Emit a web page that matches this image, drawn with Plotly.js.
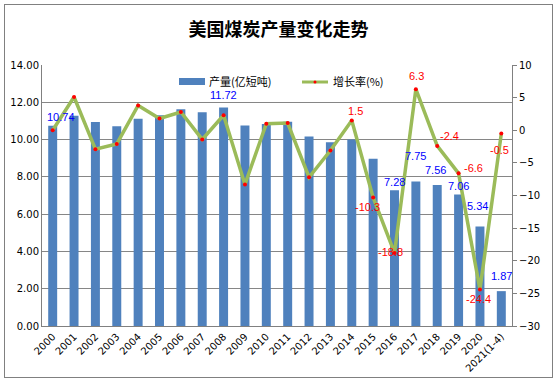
<!DOCTYPE html>
<html><head><meta charset="utf-8">
<script src="https://cdn.plot.ly/plotly-3.0.1.min.js"></script>
<style>
body{margin:0;padding:0;background:#fff;}
#wrap{position:relative;width:557px;height:385px;}
#chart{position:absolute;left:0;top:0;width:557px;height:385px;}
#frame{position:absolute;left:4px;top:4px;width:547px;height:372px;border:1px solid #808080;pointer-events:none;}
</style></head>
<body><div id="wrap"><div id="chart"></div><div id="frame"></div></div>
<script>
const years = ['2000','2001','2002','2003','2004','2005','2006','2007','2008','2009','2010','2011','2012','2013','2014','2015','2016','2017','2018','2019','2020','2021(1-4)'];
const production = [10.74,11.28,10.94,10.71,11.12,11.31,11.63,11.46,11.72,10.75,10.84,10.96,10.16,9.85,10.00,8.97,7.28,7.75,7.56,7.06,5.34,1.87];
const growth = [0.0,5.1,-2.9,-2.1,3.8,1.8,2.8,-1.4,2.3,-8.3,1.0,1.1,-7.2,-3.1,1.5,-10.3,-18.8,6.3,-2.4,-6.6,-24.4,-0.5];
const prodLabelIdx = [0,8,16,17,18,19,20,21];
const growthLabelIdx = [14,15,16,17,18,19,20,21];

// label offsets (styling only): [xshift, yshift] in px
const prodShift = {0:[8,9],8:[0,13],16:[0,8],17:[0,26],18:[-2,15],19:[0,8],20:[-2,20],21:[0,15]};
const growthShift = {14:[4,9],15:[-6,-10],16:[-4,1],17:[1,13],18:[12,10],19:[15,5],20:[-1,-10],21:[-2,-16]};

const lab = {family:'Liberation Sans, Arial, sans-serif', size:11};
const annotations = [];
prodLabelIdx.forEach(i=>{
  annotations.push({x:i, y:production[i], xref:'x', yref:'y', text:production[i].toFixed(2),
    showarrow:false, font:Object.assign({},lab,{color:'#0000ff'}), xshift:prodShift[i][0], yshift:prodShift[i][1]});
});
growthLabelIdx.forEach(i=>{
  annotations.push({x:i, y:growth[i], xref:'x', yref:'y2', text:String(growth[i]),
    showarrow:false, font:Object.assign({},lab,{color:'#ff0000'}), xshift:growthShift[i][0], yshift:growthShift[i][1]});
});

// custom legend (pixel -> paper)
const L=42, W=470, B=326, H=261;
const px = v => (v-L)/W, py = v => (B-v)/H;
annotations.push({xref:'paper', yref:'paper', x:px(208), y:py(81), xanchor:'left', yanchor:'middle', text:'产量(亿短吨)', showarrow:false,
  font:{family:'Noto Sans CJK SC, sans-serif', size:11, color:'#000'}, borderpad:0});
annotations.push({xref:'paper', yref:'paper', x:px(332), y:py(81), xanchor:'left', yanchor:'middle', text:'增长率(%)', showarrow:false,
  font:{family:'Noto Sans CJK SC, sans-serif', size:11, color:'#000'}, borderpad:0});
const shapes = [
  {type:'rect', xref:'paper', yref:'paper', x0:px(179), x1:px(205), y0:py(85), y1:py(78), fillcolor:'#4f81bd', line:{width:0}},
  {type:'line', xref:'paper', yref:'paper', x0:px(302), x1:px(328), y0:py(82), y1:py(82), line:{color:'#9bbb59', width:3}},
  {type:'circle', xref:'paper', yref:'paper', x0:px(313.5), x1:px(316.5), y0:py(83.5), y1:py(80.5), fillcolor:'#ff0000', line:{width:0}}
];

const data = [
  {type:'bar', x:years, y:production, name:'产量(亿短吨)', marker:{color:'#4f81bd'}, width:0.42, yaxis:'y'},
  {type:'scatter', mode:'lines+markers', x:years, y:growth, name:'增长率(%)', yaxis:'y2',
   line:{color:'#9bbb59', width:3.5}, marker:{color:'#ff0000', size:4, line:{width:0}}}
];

const tickFont = {family:'DejaVu Sans, Verdana, sans-serif', size:10, color:'#000'};
const layout = {
  width:557, height:385,
  margin:{l:42, r:45, t:65, b:59},
  paper_bgcolor:'#fff', plot_bgcolor:'#fff',
  showlegend:false,
  title:{text:'美国煤炭产量变化走势', x:0.5, xanchor:'center', y:0.922, yanchor:'middle',
    font:{family:'Noto Sans CJK SC, sans-serif', size:18, color:'#000', weight:'bold'}},
  xaxis:{type:'category', range:[-0.5, years.length-0.5], tickangle:-45, tickfont:tickFont, showgrid:false, showline:true, linecolor:'#808080', linewidth:1, ticks:'', fixedrange:true},
  yaxis:{range:[0,14], dtick:2, tickformat:'.2f', tickfont:tickFont, showgrid:true, gridcolor:'#868686', gridwidth:1,
    showline:true, linecolor:'#808080', linewidth:1, zeroline:false, ticks:'', ticklen:0},
  yaxis2:{range:[-30,10], dtick:5, overlaying:'y', side:'right', tickfont:tickFont, showgrid:false, zeroline:false,
    showline:true, linecolor:'#808080', linewidth:1, ticks:'outside', ticklen:4, tickcolor:'#808080'},
  annotations:annotations, shapes:shapes
};
Plotly.newPlot('chart', data, layout, {displayModeBar:false, staticPlot:true});
</script></body></html>
